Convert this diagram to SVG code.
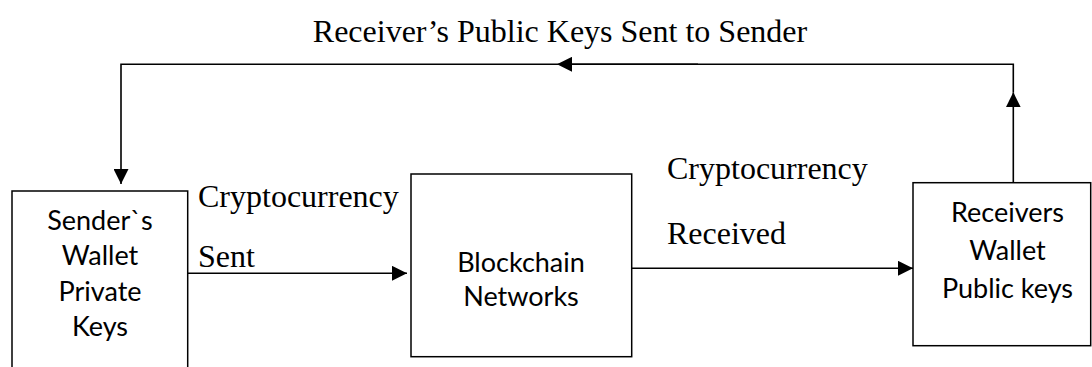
<svg xmlns="http://www.w3.org/2000/svg" width="1092" height="367" viewBox="0 0 1092 367">
  <style>
    .box { fill: #ffffff; stroke: #000000; stroke-width: 1.5; }
    .node-text { font-family: Lato, "Noto Sans", sans-serif; font-size: 27px; fill: #000000; text-anchor: middle; }
    .label { font-family: "Liberation Serif", "Times New Roman", serif; font-size: 32px; fill: #000000; }
    .conn { fill: none; stroke: #000000; stroke-width: 1.6; }
  </style>
  <defs>
    <marker id="arrow" markerUnits="userSpaceOnUse" markerWidth="15" markerHeight="15" refX="15" refY="7.5" orient="auto">
      <path d="M0,0 L15,7.5 L0,15 Z" fill="#000000"/>
    </marker>
  </defs>

  <rect width="1092" height="367" fill="#ffffff"/>

  <g id="node-sender">
    <path class="box" d="M12,380 V191 H187.7 V380"/>
    <text class="node-text" x="100" y="230">Sender`s</text>
    <text class="node-text" x="100" y="265.3">Wallet</text>
    <text class="node-text" x="100" y="300.7">Private</text>
    <text class="node-text" x="100" y="336">Keys</text>
  </g>

  <g id="node-blockchain">
    <rect class="box" x="411" y="174" width="220.7" height="182.7"/>
    <text class="node-text" x="521" y="271.7">Blockchain</text>
    <text class="node-text" x="521" y="305.7">Networks</text>
  </g>

  <g id="node-receiver">
    <rect class="box" x="913" y="182.7" width="177.7" height="163"/>
    <text class="node-text" x="1007.5" y="221.7">Receivers</text>
    <text class="node-text" x="1007.5" y="260">Wallet</text>
    <text class="node-text" x="1007.5" y="298.3">Public keys</text>
  </g>

  <g id="connectors">
    <line class="conn" x1="187.7" y1="273.3" x2="407" y2="273.3" marker-end="url(#arrow)"/>
    <line class="conn" x1="631.7" y1="268.3" x2="913" y2="268.3" marker-end="url(#arrow)"/>
    <line class="conn" x1="1013.3" y1="182.7" x2="1013.3" y2="92.3" marker-end="url(#arrow)"/>
    <path class="conn" d="M1013.3,92.3 V64.3 H557" marker-end="url(#arrow)"/>
    <line class="conn" x1="571" y1="64.3" x2="698" y2="64.3" stroke-width="2.6"/>
    <path class="conn" d="M557,64.3 H121 V184" marker-end="url(#arrow)"/>
  </g>

  <g id="labels">
    <text class="label" x="560" y="41.7" text-anchor="middle">Receiver’s Public Keys Sent to Sender</text>
    <text class="label" x="198" y="206.7">Cryptocurrency</text>
    <text class="label" x="198" y="267.3">Sent</text>
    <text class="label" x="667" y="179">Cryptocurrency</text>
    <text class="label" x="667" y="244">Received</text>
  </g>
</svg>
